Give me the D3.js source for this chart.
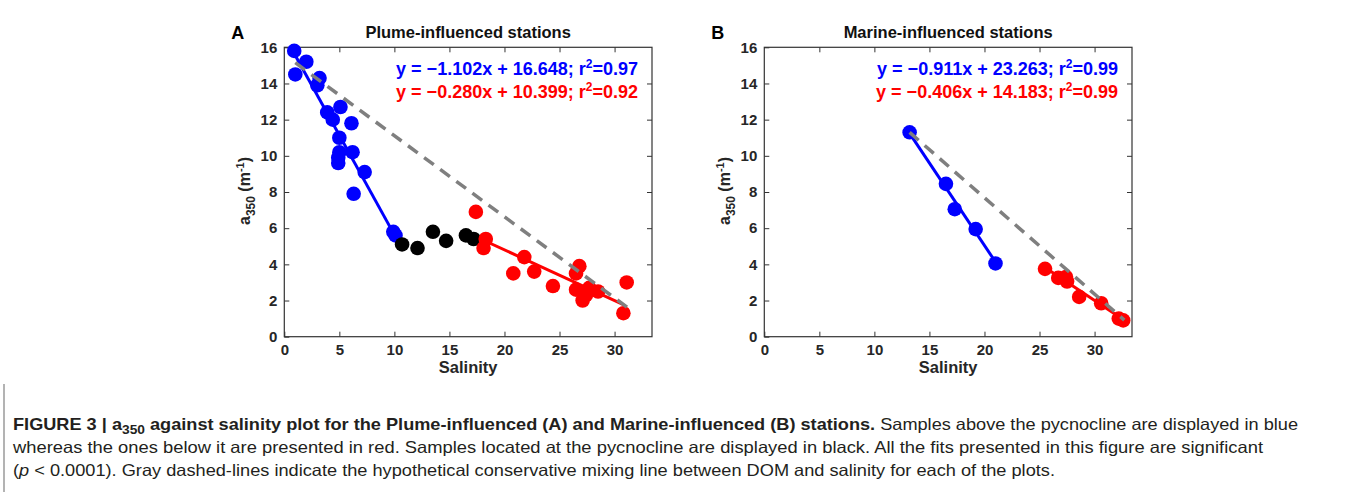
<!DOCTYPE html>
<html>
<head>
<meta charset="utf-8">
<script src="https://cdn.jsdelivr.net/npm/d3@7"></script>
<style>
  body { margin: 0; background: #fff; }
  svg { display: block; }
  text { font-family: "Liberation Sans", Arial, sans-serif; }
</style>
</head>
<body>
<svg id="fig" width="1346" height="492"></svg>
<script>
// ---- data ----
// Panel A: plume-influenced stations
const aBlueSal = [0.9, 2.0, 1.0, 3.2, 3.0, 3.9, 5.1, 4.4, 6.1, 5.0, 6.2, 5.0, 4.9, 4.9, 7.3, 6.3, 9.9, 10.1];
const aBlueA350 = [15.8, 15.2, 14.5, 14.3, 13.9, 12.4, 12.7, 12.0, 11.8, 11.0, 10.2, 10.2, 9.9, 9.6, 9.1, 7.9, 5.8, 5.6];
const aBlackSal = [10.7, 12.1, 13.5, 14.7, 16.5, 17.2];
const aBlackA350 = [5.1, 4.9, 5.8, 5.3, 5.6, 5.4];
const aRedSal = [17.4, 18.3, 18.1, 21.8, 20.8, 22.7, 24.4, 26.8, 26.5, 26.5, 27.1, 27.7, 28.5, 27.4, 30.8, 31.1];
const aRedA350 = [6.9, 5.4, 4.9, 4.4, 3.5, 3.6, 2.8, 3.9, 3.5, 2.6, 2.0, 2.7, 2.5, 2.3, 1.3, 3.0];
const aMixSal = [1.0, 31.7];
const aMixA350 = [15.15, 1.38];
const aFitBlue = { slope: -1.102, icpt: 16.648, r2: "0.97", from: 0.9, to: 10.1 };
const aFitRed = { slope: -0.280, icpt: 10.399, r2: "0.92", from: 17.6, to: 30.8 };

// Panel B: marine-influenced stations
const bBlueSal = [13.2, 16.5, 17.3, 19.2, 21.0];
const bBlueA350 = [11.3, 8.45, 7.05, 5.95, 4.05];
const bRedSal = [25.5, 26.7, 27.4, 27.5, 28.6, 30.6, 32.2, 32.6];
const bRedA350 = [3.75, 3.25, 3.3, 3.05, 2.2, 1.85, 1.0, 0.9];
const bMixSal = [13.2, 32.7];
const bMixA350 = [11.3, 0.92];
const bFitBlue = { slope: -0.911, icpt: 23.263, r2: "0.99", from: 13.2, to: 21.0 };
const bFitRed = { slope: -0.406, icpt: 14.183, r2: "0.99", from: 25.5, to: 32.6 };

const xTicks = [0, 5, 10, 15, 20, 25, 30];
const yTicks = [0, 2, 4, 6, 8, 10, 12, 14, 16];
const xMax = 33.4, yMax = 16;

const panels = [
  { tag: "A", title: "Plume-influenced stations", left: 284.3,
    groups: [[aBlueSal, aBlueA350, "#0000ff"], [aBlackSal, aBlackA350, "#000000"], [aRedSal, aRedA350, "#ff0000"]],
    mix: [aMixSal, aMixA350], fits: [[aFitBlue, "#0000ff"], [aFitRed, "#ff0000"]] },
  { tag: "B", title: "Marine-influenced stations", left: 764.3,
    groups: [[bBlueSal, bBlueA350, "#0000ff"], [bRedSal, bRedA350, "#ff0000"]],
    mix: [bMixSal, bMixA350], fits: [[bFitBlue, "#0000ff"], [bFitRed, "#ff0000"]] }
];

const svg = d3.select("#fig");
const axisCol = "#333";
const plotTop = 47.3, plotBottom = 336.7, plotW = 367.7;

panels.forEach(p => {
  const x = d3.scaleLinear().domain([0, xMax]).range([p.left, p.left + plotW]);
  const y = d3.scaleLinear().domain([0, yMax]).range([plotBottom, plotTop]);
  const g = svg.append("g");

  // axes (ticks point inward, box all round)
  const styleAxis = sel => {
    sel.select(".domain").remove();
    sel.selectAll("line").attr("stroke", axisCol).attr("stroke-width", 1);
    sel.selectAll("text").attr("fill", "#262626").attr("font-weight", "bold").attr("font-size", 15);
  };
  g.append("g").attr("transform", `translate(0,${plotBottom})`)
    .call(d3.axisBottom(x).tickValues(xTicks).tickSize(-5).tickPadding(8).tickFormat(d3.format("d")))
    .call(styleAxis);
  g.append("g").attr("transform", `translate(0,${plotTop})`)
    .call(d3.axisTop(x).tickValues(xTicks.filter(d => d > 0)).tickSize(-5).tickFormat(""))
    .call(styleAxis);
  g.append("g").attr("transform", `translate(${p.left},0)`)
    .call(d3.axisLeft(y).tickValues(yTicks).tickSize(-5).tickPadding(7).tickFormat(d3.format("d")))
    .call(styleAxis);
  g.append("g").attr("transform", `translate(${p.left + plotW},0)`)
    .call(d3.axisRight(y).tickValues(yTicks.filter(d => d > 0 && d < 16)).tickSize(-5).tickFormat(""))
    .call(styleAxis);
  g.append("rect")
    .attr("x", p.left).attr("y", plotTop).attr("width", plotW).attr("height", plotBottom - plotTop)
    .attr("fill", "none").attr("stroke", axisCol).attr("stroke-width", 1.2);

  // fit lines
  p.fits.forEach(([f, col]) => {
    g.append("line")
      .attr("x1", x(f.from)).attr("y1", y(f.slope * f.from + f.icpt))
      .attr("x2", x(f.to)).attr("y2", y(f.slope * f.to + f.icpt))
      .attr("stroke", col).attr("stroke-width", 3);
  });

  // points
  p.groups.forEach(([sx, sy, col]) => {
    g.append("g").selectAll("circle")
      .data(sx.map((v, i) => [v, sy[i]]))
      .join("circle")
      .attr("cx", d => x(d[0])).attr("cy", d => y(d[1]))
      .attr("r", 7.3).attr("fill", col);
  });

  // conservative mixing line
  g.append("line")
    .attr("x1", x(p.mix[0][0])).attr("y1", y(p.mix[1][0]))
    .attr("x2", x(p.mix[0][1])).attr("y2", y(p.mix[1][1]))
    .attr("stroke", "#7f7f7f").attr("stroke-width", 3.5)
    .attr("stroke-dasharray", "12,8");

  // equations
  p.fits.forEach(([f, col], i) => {
    const t = g.append("text")
      .attr("x", p.left + plotW - 14).attr("y", 74.5 + i * 23)
      .attr("text-anchor", "end").attr("fill", col)
      .attr("font-family", "'Open Sans', sans-serif").attr("font-weight", "bold").attr("font-size", 18);
    const ic = f.icpt.toFixed(3);
    t.append("tspan").text(`y = \u2212${Math.abs(f.slope).toFixed(3)}x + ${ic}; r`);
    t.append("tspan").attr("dy", -7).attr("font-size", 12).text("2");
    t.append("tspan").attr("dy", 7).text(`=${f.r2}`);
  });

  // titles and labels
  g.append("text").attr("x", p.left + plotW / 2).attr("y", 38)
    .attr("text-anchor", "middle").attr("font-weight", "bold").attr("font-size", 16.5).attr("fill", "#111")
    .text(p.title);
  g.append("text").attr("x", p.left - 53).attr("y", 39)
    .attr("font-weight", "bold").attr("font-size", 18).attr("fill", "#000").text(p.tag);
  g.append("text").attr("x", p.left + plotW / 2).attr("y", 373)
    .attr("text-anchor", "middle").attr("font-weight", "bold").attr("font-size", 16.5).attr("fill", "#262626")
    .text("Salinity");
  const yl = g.append("text")
    .attr("transform", `translate(${p.left - 34},191) rotate(-90)`)
    .attr("text-anchor", "middle").attr("font-weight", "bold").attr("font-size", 16).attr("fill", "#262626");
  yl.append("tspan").text("a");
  yl.append("tspan").attr("dy", 5).attr("font-size", 12).text("350");
  yl.append("tspan").attr("dy", -5).text(" (m");
  yl.append("tspan").attr("dy", -6).attr("font-size", 11).text("-1");
  yl.append("tspan").attr("dy", 6).text(")");
});

// caption
svg.append("line").attr("x1", 4).attr("x2", 4).attr("y1", 384).attr("y2", 492)
  .attr("stroke", "#9a9a9a").attr("stroke-width", 1.5);

const capLines = [
  { y: 430, w: 1285, parts: [
    ["FIGURE 3 | a", "bold"], ["350", "bold", "sub"],
    [" against salinity plot for the Plume-influenced (A) and Marine-influenced (B) stations.", "bold"],
    [" Samples above the pycnocline are displayed in blue", "normal"]] },
  { y: 453, w: 1250, parts: [["whereas the ones below it are presented in red. Samples located at the pycnocline are displayed in black. All the fits presented in this figure are significant", "normal"]] },
  { y: 476, w: 1042, parts: [["(", "normal"], ["p", "normal", "it"], [" < 0.0001). Gray dashed-lines indicate the hypothetical conservative mixing line between DOM and salinity for each of the plots.", "normal"]] }
];
capLines.forEach(l => {
  const t = svg.append("text").attr("x", 13).attr("y", l.y)
    .attr("font-size", 16.5).attr("fill", "#231f20")
    .attr("textLength", l.w).attr("lengthAdjust", "spacingAndGlyphs");
  let shifted = false;
  l.parts.forEach(([s, wt, kind]) => {
    const ts = t.append("tspan").attr("font-weight", wt).text(s);
    if (kind === "sub") { ts.attr("dy", 4).attr("font-size", 12.5); shifted = true; }
    else if (shifted) { ts.attr("dy", -4); shifted = false; }
    if (kind === "it") ts.attr("font-style", "italic");
  });
});
</script>
</body>
</html>
